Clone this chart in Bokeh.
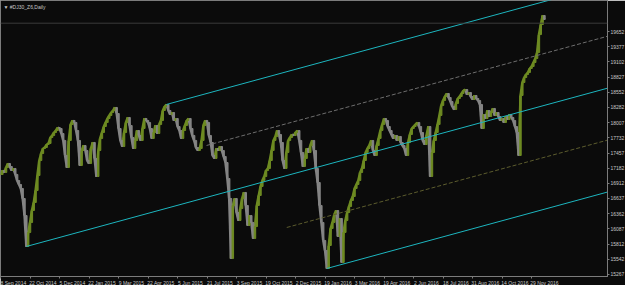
import numpy as np
from bokeh.plotting import figure
from bokeh.models import Range1d, LinearAxis, FixedTicker, Span, Label
from bokeh.embed import file_html
from bokeh.resources import INLINE

# ---------------- data ----------------
symbol_title = "\u25BC #DJ30_Z6,Daily"
# sampled closes, one value every 2 bars, bar 0 = 8 Sep 2014
bar_step = 2
closes = [
    17070, 17142, 17106, 17196, 17268, 17214, 17142, 17178, 17070, 16961,
    16889, 16817, 16636, 16329, 15769, 16022, 16203, 16419, 16564, 16781,
    17051, 17322, 17449, 17539, 17557, 17611, 17629, 17738, 17774, 17828,
    17864, 17918, 17900, 17810, 17684, 17413, 17196, 17684, 17973, 18045,
    18009, 17864, 17684, 17232, 17503, 17593, 17503, 17322, 17268, 17539,
    17648, 17359, 17033, 17503, 17720, 17828, 17936, 18009, 18081, 18135,
    18189, 18225, 18280, 18171, 17900, 17684, 17575, 17828, 18009, 18099,
    17954, 17738, 17539, 17684, 17864, 17774, 17684, 17900, 18081, 18045,
    18009, 17900, 17720, 17828, 17954, 17810, 17973, 18045, 18225, 18298,
    18334, 18225, 18153, 18189, 18045, 18081, 17936, 17864, 17720, 17864,
    17954, 18045, 18081, 17900, 17774, 17684, 17557, 17503, 17539, 17684,
    17954, 18045, 18009, 17774, 17648, 17413, 17359, 17539, 17503, 17575,
    17503, 17395, 17286, 16997, 16636, 15553, 16510, 16636, 16383, 16239,
    16455, 16636, 16745, 16510, 16149, 16329, 16203, 15914, 16130, 16510,
    16690, 16853, 16961, 17033, 17142, 17178, 17322, 17503, 17684, 17756,
    17864, 17792, 17648, 17322, 17178, 17467, 17684, 17738, 17792, 17774,
    17828, 17864, 17684, 17467, 17214, 17359, 17539, 17467, 17593, 17684,
    17503, 17178, 16925, 16510, 16203, 15878, 15697, 15372, 15787, 16094,
    16203, 16347, 16419, 15950, 16275, 15481, 16022, 16239, 16383, 16492,
    16600, 16672, 16817, 16889, 16961, 17106, 17178, 17322, 17467, 17539,
    17593, 17684, 17503, 17413, 17593, 17720, 17864, 17973, 18081, 18045,
    17936, 17864, 17792, 17720, 17774, 17684, 17756, 17648, 17593, 17539,
    17413, 17648, 17792, 17900, 17936, 17973, 18009, 17936, 17828, 17684,
    17611, 17774, 17936, 17033, 17467, 17684, 17828, 17973, 18135, 18316,
    18406, 18478, 18532, 18460, 18388, 18298, 18243, 18352, 18442, 18478,
    18532, 18586, 18604, 18514, 18550, 18478, 18424, 18496, 18442, 18406,
    18334, 17900, 18153, 18081, 18225, 18117, 18189, 18262, 18135, 18189,
    18117, 18045, 18081, 18009, 18117, 18063, 18153, 18099, 18045, 17936,
    17828, 17413, 18496, 18731, 18821, 18876, 18912, 18984, 19020, 19092,
    19164, 19273, 19597, 19778, 19941, 19869,
]
# Andrews' pitchfork pivots (sample indices into closes)
pivot_samples = [14, 90, 177]

date_labels = ["8 Sep 2014", "22 Oct 2014", "5 Dec 2014", "22 Jan 2015", "9 Mar 2015",
               "22 Apr 2015", "5 Jun 2015", "21 Jul 2015", "3 Sep 2015", "19 Oct 2015",
               "2 Dec 2015", "19 Jan 2016", "3 Mar 2016", "19 Apr 2016", "2 Jun 2016",
               "18 Jul 2016", "31 Aug 2016", "14 Oct 2016", "29 Nov 2016"]
date_label_bars = [0, 32, 64, 96, 128, 160, 192, 224, 256, 288, 320, 352, 384,
                   416, 448, 480, 512, 544, 576]
price_ticks = [19652, 19377, 19102, 18827, 18552, 18282, 18007, 17732, 17457,
               17182, 16912, 16637, 16362, 16087, 15812, 15542, 15267]
bid_price = 19802

# ---------------- style ----------------
BG = "#0b0b0b"
FRAME = "#7c7c7c"
TXT = "#c8c8c8"
UP = "#6e8b22"
DOWN = "#858585"
CYAN = "#1db6bf"
GRAY_DASH = "#6e6e6e"
OLIVE_DASH = "#5c5c2e"
FONT = "Liberation Sans"
FS = "5px"
X_START, X_END = 0, 658.4
Y_START, Y_END = 15227, 20212
LABEL_SHIFT = 14

p = figure(frame_width=607, frame_height=276,
           x_range=Range1d(X_START, X_END), y_range=Range1d(Y_START, Y_END),
           x_axis_location=None, y_axis_location=None,
           toolbar_location=None, output_backend="svg",
           min_border_left=0, min_border_top=0, min_border_right=18, min_border_bottom=9,
           background_fill_color=BG, border_fill_color=BG,
           outline_line_color=FRAME, outline_line_width=1)
p.xgrid.visible = False
p.ygrid.visible = False

# price bars
vals = np.array(closes, dtype=float)
xs = np.arange(len(vals)) * bar_step
prev = np.concatenate([[vals[0]], vals[:-1]])
prev_x = np.concatenate([[xs[0]], xs[:-1]])
tops = np.maximum(prev, vals)
bots = np.minimum(prev, vals)
cols = [UP if c >= q else DOWN for c, q in zip(vals, prev)]
# connecting strokes give the bar band its body
p.segment(x0=prev_x, y0=prev, x1=xs, y1=vals, line_color=cols, line_width=2.4)
p.vbar(x=xs, width=bar_step * 0.8, top=tops, bottom=bots,
       fill_color=cols, line_color=cols, line_width=1)

# Andrews' pitchfork
pxs = [xs[k] for k in pivot_samples]
pys = [vals[k] for k in pivot_samples]
mx, my = (pxs[1] + pxs[2]) / 2, (pys[1] + pys[2]) / 2
slope = (my - pys[0]) / (mx - pxs[0])

def ray(x0, y0):
    return [x0, X_END], [y0, y0 + slope * (X_END - x0)]

for (x0, y0) in [(pxs[0], pys[0]), (pxs[1], pys[1]), (pxs[2], pys[2])]:
    rx, ry = ray(x0, y0)
    p.line(rx, ry, line_color=CYAN, line_width=1)

ux, uy = (pxs[1] + mx) / 2, (pys[1] + my) / 2
rx, ry = ray(ux, uy)
p.line(rx, ry, line_color=GRAY_DASH, line_width=1, line_dash="4 2")
lx, ly = (pxs[2] + mx) / 2, (pys[2] + my) / 2
rx, ry = ray(lx, ly)
p.line(rx, ry, line_color=OLIVE_DASH, line_width=1, line_dash="4 2")

# bid line
p.add_layout(Span(location=bid_price, dimension="width", line_color="#3a3a3a", line_width=1))

# axes
yax = LinearAxis(ticker=FixedTicker(ticks=price_ticks),
                 major_label_overrides={t: str(t) for t in price_ticks},
                 axis_line_color=FRAME, major_tick_line_color=FRAME,
                 major_tick_out=2, major_tick_in=0, minor_tick_out=0, minor_tick_in=0,
                 major_label_standoff=1,
                 major_label_text_font=FONT, major_label_text_font_size=FS,
                 major_label_text_color=TXT)
p.add_layout(yax, "right")

xticks = [b + LABEL_SHIFT for b in date_label_bars]
xax = LinearAxis(ticker=FixedTicker(ticks=xticks, minor_ticks=date_label_bars),
                 major_label_overrides={t: lab for t, lab in zip(xticks, date_labels)},
                 axis_line_color=FRAME, major_tick_line_color=None,
                 minor_tick_line_color=FRAME,
                 major_tick_out=0, major_tick_in=0, minor_tick_out=2, minor_tick_in=0,
                 major_label_standoff=1,
                 major_label_text_font=FONT, major_label_text_font_size=FS,
                 major_label_text_color=TXT)
p.add_layout(xax, "below")

# symbol title
p.add_layout(Label(x=X_START, y=Y_END, x_offset=3, y_offset=-3, text=symbol_title,
                   text_baseline="top", text_align="left", text_font=FONT,
                   text_font_size=FS, text_color=TXT))
# current price box
p.add_layout(Label(x=X_END, y=bid_price, x_offset=2, text=str(bid_price),
                   text_baseline="middle", text_align="left", text_font=FONT,
                   text_font_size=FS, text_color="#101010",
                   background_fill_color="#a8a8a8"))

open("out.html", "w").write(file_html(p, INLINE))
